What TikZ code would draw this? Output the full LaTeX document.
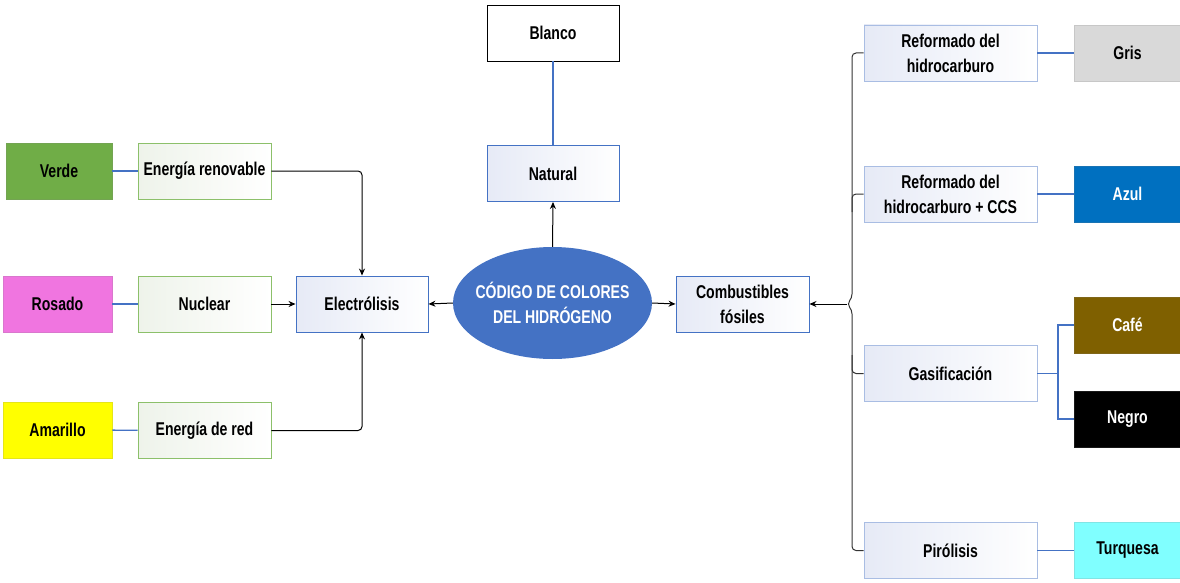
\documentclass[tikz,border=0pt]{standalone}
\usepackage{fontspec}
\setmainfont{Liberation Sans}[FakeStretch=0.76]
\usetikzlibrary{arrows.meta,shapes.geometric}
\definecolor{mainblue}{HTML}{4472C4}
\definecolor{paleblue}{HTML}{A9BDE3}
\definecolor{greenbd}{HTML}{8CC06A}
\definecolor{tintblue}{HTML}{E6EAF6}
\definecolor{tintgreen}{HTML}{EEF3EA}
\definecolor{cverde}{HTML}{70AD47}
\definecolor{crosado}{HTML}{F075E0}
\definecolor{camarillo}{HTML}{FFFF00}
\definecolor{cgris}{HTML}{D9D9D9}
\definecolor{cazul}{HTML}{0070C0}
\definecolor{ccafe}{HTML}{7F6000}
\definecolor{cturq}{HTML}{80FFFF}
\tikzset{
  lbl/.style={inner sep=0pt, align=center, font=\bfseries\fontsize{18.5}{25}\selectfont},
  sizeA/.style={minimum width=133pt, minimum height=56pt},
  sizeB/.style={minimum width=173pt, minimum height=56pt},
  sizeC/.style={minimum width=106pt, minimum height=56pt},
  srcbox/.style={lbl, sizeA, draw=greenbd, line width=0.9pt, left color=tintgreen, right color=white},
  midbox/.style={lbl, sizeA, draw=mainblue, line width=0.9pt, left color=tintblue, right color=white},
  procbox/.style={lbl, sizeB, draw=paleblue, line width=0.9pt, left color=tintblue, right color=white},
  colbox/.style={lbl, sizeC, draw=#1!80!gray, line width=0.6pt, fill=#1},
  blueline/.style={draw=mainblue, line width=1.4pt},
  arr/.style={draw=black, line width=1pt, -{Stealth[length=7pt,width=6pt]}},
  brace/.style={draw=black!80, line width=1pt, rounded corners=4pt}
}
\begin{document}
\begin{tikzpicture}[x=1pt,y=-1pt]
\useasboundingbox (0,0) rectangle (1180,583);

% colour codes on the left
\node[colbox=cverde] (verde) at (59,171) {Verde};
\node[colbox=crosado, minimum width=109pt] (rosado) at (57.5,304) {Rosado};
\node[colbox=camarillo, minimum width=109pt] (amarillo) at (57.5,430) {Amarillo};

% energy sources
\node[srcbox] (renov) at (204.5,171) {Energía renovable};
\node[srcbox] (nuclear) at (204.5,304) {Nuclear};
\node[srcbox] (red) at (204.5,430.5) {Energía de red};

% processes around the centre
\node[midbox, minimum width=132pt] (elec) at (362,304) {Electrólisis};
\node[lbl, minimum width=132pt, minimum height=56pt, draw=black, line width=0.9pt, fill=white] (blanco) at (553,33) {Blanco};
\node[midbox, minimum width=132pt] (natural) at (553,173.5) {Natural};
\node[midbox] (comb) at (742.5,304) {Combustibles\\fósiles};
\node[ellipse, fill=mainblue, minimum width=199pt, minimum height=112pt, inner xsep=-25pt, inner ysep=-10pt,
      align=center, text=white, font=\bfseries\fontsize{18.5}{25}\selectfont] (core) at (552.5,303)
      {CÓDIGO DE COLORES\\DEL HIDRÓGENO};

% fossil fuel routes
\node[procbox] (ref1) at (950.5,53) {Reformado del\\hidrocarburo};
\node[procbox] (ref2) at (950.5,194) {Reformado del\\hidrocarburo + CCS};
\node[procbox] (gas) at (950.5,373.5) {Gasificación};
\node[procbox] (piro) at (950.5,550.5) {Pirólisis};

% colour codes on the right
\node[colbox=cgris] (gris) at (1127.5,53) {Gris};
\node[colbox=cazul, text=white] (azul) at (1127.5,194) {Azul};
\node[colbox=ccafe, text=white] (cafe) at (1127.5,325) {Café};
\node[colbox=black, text=white] (negro) at (1127.5,419) {Negro};
\node[colbox=cturq] (turq) at (1127.5,550.5) {Turquesa};

% blue links between colours and their sources
\draw[blueline] (verde) -- (renov);
\draw[blueline] (rosado) -- (nuclear);
\draw[blueline] (amarillo) -- (red);
\draw[blueline] (blanco) -- (natural);
\draw[blueline] (ref1) -- (gris);
\draw[blueline] (ref2) -- (azul);
\draw[blueline] (piro) -- (turq);
\coordinate (gj) at (1058,373.5);
\draw[blueline] (gas.east) -- (gj);
\draw[blueline] (cafe.west) -| (gj) |- (negro.west);

% arrows into electrolysis
\draw[arr, rounded corners=4pt] (renov.east) -| (elec.north);
\draw[arr] (nuclear) -- (elec);
\draw[arr, rounded corners=4pt] (red.east) -| (elec.south);

% arrows from the centre
\draw[arr] (core.north) -- (natural.south);
\draw[arr] (core.west) -- (elec.east);
\draw[arr] (core.east) -- (comb.west);

% brace gathering the fossil routes
\coordinate (tip) at (847,304);
\draw[brace] (ref1.west) -| (852,298) -- (tip) -- (852,310) |- (piro.west);
\draw[brace] (ref2.west) -| (852,212);
\draw[brace] (gas.west) -| (852,355);
\draw[arr] (tip) -- (comb.east);
\end{tikzpicture}
\end{document}
